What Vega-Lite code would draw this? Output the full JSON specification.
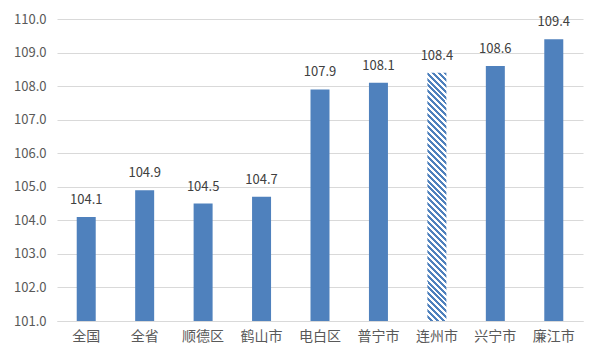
{
  "$schema": "https://vega.github.io/schema/vega-lite/v6.json",
  "width": 526,
  "height": 302,
  "autosize": {"type": "none"},
  "padding": {"left": 57, "top": 19, "right": 19, "bottom": 41},
  "background": "white",
  "config": {
    "view": {"stroke": null},
    "font": "Noto Sans CJK SC"
  },
  "data": {
    "values": [
      {"region": "全国", "value": 104.1},
      {"region": "全省", "value": 104.9},
      {"region": "顺德区", "value": 104.5},
      {"region": "鹤山市", "value": 104.7},
      {"region": "电白区", "value": 107.9},
      {"region": "普宁市", "value": 108.1},
      {"region": "连州市", "value": 108.4},
      {"region": "兴宁市", "value": 108.6},
      {"region": "廉江市", "value": 109.4}
    ]
  },
  "encoding": {
    "x": {
      "field": "region",
      "type": "nominal",
      "sort": ["全国", "全省", "顺德区", "鹤山市", "电白区", "普宁市", "连州市", "兴宁市", "廉江市"],
      "scale": {"paddingInner": 0.675, "paddingOuter": 0.3375},
      "axis": {
        "title": null,
        "labelAngle": 0,
        "ticks": false,
        "domain": true,
        "domainColor": "#d9d9d9",
        "labelFontSize": 14,
        "labelColor": "#595959",
        "labelPadding": 8,
        "grid": false
      }
    },
    "y": {
      "field": "value",
      "type": "quantitative",
      "scale": {"domain": [101, 110], "zero": false, "nice": false},
      "axis": {
        "title": null,
        "values": [101, 102, 103, 104, 105, 106, 107, 108, 109, 110],
        "format": ".1f",
        "grid": true,
        "gridColor": "#d9d9d9",
        "domain": false,
        "ticks": false,
        "labelPadding": 11,
        "labelFontSize": 13,
        "labelColor": "#595959"
      }
    }
  },
  "layer": [
    {
      "transform": [{"filter": "datum.region !== '连州市'"}],
      "mark": {"type": "bar", "color": "#4F81BD"},
      "encoding": {"y2": {"datum": 101}}
    },
    {
      "transform": [{"filter": "datum.region === '连州市'"}],
      "mark": {
        "type": "bar",
        "fill": {
          "gradient": "linear",
          "x1": 1, "y1": 0, "x2": 0.918, "y2": 1.0703,
          "stops": [
            {"offset": 0, "color": "#4F81BD"}, {"offset": 0.0111, "color": "#4F81BD"}, {"offset": 0.0111, "color": "#fff"}, {"offset": 0.0222, "color": "#fff"},
            {"offset": 0.0222, "color": "#4F81BD"}, {"offset": 0.0333, "color": "#4F81BD"}, {"offset": 0.0333, "color": "#fff"}, {"offset": 0.0444, "color": "#fff"},
            {"offset": 0.0444, "color": "#4F81BD"}, {"offset": 0.0556, "color": "#4F81BD"}, {"offset": 0.0556, "color": "#fff"}, {"offset": 0.0667, "color": "#fff"},
            {"offset": 0.0667, "color": "#4F81BD"}, {"offset": 0.0778, "color": "#4F81BD"}, {"offset": 0.0778, "color": "#fff"}, {"offset": 0.0889, "color": "#fff"},
            {"offset": 0.0889, "color": "#4F81BD"}, {"offset": 0.1, "color": "#4F81BD"}, {"offset": 0.1, "color": "#fff"}, {"offset": 0.1111, "color": "#fff"},
            {"offset": 0.1111, "color": "#4F81BD"}, {"offset": 0.1222, "color": "#4F81BD"}, {"offset": 0.1222, "color": "#fff"}, {"offset": 0.1333, "color": "#fff"},
            {"offset": 0.1333, "color": "#4F81BD"}, {"offset": 0.1444, "color": "#4F81BD"}, {"offset": 0.1444, "color": "#fff"}, {"offset": 0.1556, "color": "#fff"},
            {"offset": 0.1556, "color": "#4F81BD"}, {"offset": 0.1667, "color": "#4F81BD"}, {"offset": 0.1667, "color": "#fff"}, {"offset": 0.1778, "color": "#fff"},
            {"offset": 0.1778, "color": "#4F81BD"}, {"offset": 0.1889, "color": "#4F81BD"}, {"offset": 0.1889, "color": "#fff"}, {"offset": 0.2, "color": "#fff"},
            {"offset": 0.2, "color": "#4F81BD"}, {"offset": 0.2111, "color": "#4F81BD"}, {"offset": 0.2111, "color": "#fff"}, {"offset": 0.2222, "color": "#fff"},
            {"offset": 0.2222, "color": "#4F81BD"}, {"offset": 0.2333, "color": "#4F81BD"}, {"offset": 0.2333, "color": "#fff"}, {"offset": 0.2444, "color": "#fff"},
            {"offset": 0.2444, "color": "#4F81BD"}, {"offset": 0.2556, "color": "#4F81BD"}, {"offset": 0.2556, "color": "#fff"}, {"offset": 0.2667, "color": "#fff"},
            {"offset": 0.2667, "color": "#4F81BD"}, {"offset": 0.2778, "color": "#4F81BD"}, {"offset": 0.2778, "color": "#fff"}, {"offset": 0.2889, "color": "#fff"},
            {"offset": 0.2889, "color": "#4F81BD"}, {"offset": 0.3, "color": "#4F81BD"}, {"offset": 0.3, "color": "#fff"}, {"offset": 0.3111, "color": "#fff"},
            {"offset": 0.3111, "color": "#4F81BD"}, {"offset": 0.3222, "color": "#4F81BD"}, {"offset": 0.3222, "color": "#fff"}, {"offset": 0.3333, "color": "#fff"},
            {"offset": 0.3333, "color": "#4F81BD"}, {"offset": 0.3444, "color": "#4F81BD"}, {"offset": 0.3444, "color": "#fff"}, {"offset": 0.3556, "color": "#fff"},
            {"offset": 0.3556, "color": "#4F81BD"}, {"offset": 0.3667, "color": "#4F81BD"}, {"offset": 0.3667, "color": "#fff"}, {"offset": 0.3778, "color": "#fff"},
            {"offset": 0.3778, "color": "#4F81BD"}, {"offset": 0.3889, "color": "#4F81BD"}, {"offset": 0.3889, "color": "#fff"}, {"offset": 0.4, "color": "#fff"},
            {"offset": 0.4, "color": "#4F81BD"}, {"offset": 0.4111, "color": "#4F81BD"}, {"offset": 0.4111, "color": "#fff"}, {"offset": 0.4222, "color": "#fff"},
            {"offset": 0.4222, "color": "#4F81BD"}, {"offset": 0.4333, "color": "#4F81BD"}, {"offset": 0.4333, "color": "#fff"}, {"offset": 0.4444, "color": "#fff"},
            {"offset": 0.4444, "color": "#4F81BD"}, {"offset": 0.4556, "color": "#4F81BD"}, {"offset": 0.4556, "color": "#fff"}, {"offset": 0.4667, "color": "#fff"},
            {"offset": 0.4667, "color": "#4F81BD"}, {"offset": 0.4778, "color": "#4F81BD"}, {"offset": 0.4778, "color": "#fff"}, {"offset": 0.4889, "color": "#fff"},
            {"offset": 0.4889, "color": "#4F81BD"}, {"offset": 0.5, "color": "#4F81BD"}, {"offset": 0.5, "color": "#fff"}, {"offset": 0.5111, "color": "#fff"},
            {"offset": 0.5111, "color": "#4F81BD"}, {"offset": 0.5222, "color": "#4F81BD"}, {"offset": 0.5222, "color": "#fff"}, {"offset": 0.5333, "color": "#fff"},
            {"offset": 0.5333, "color": "#4F81BD"}, {"offset": 0.5444, "color": "#4F81BD"}, {"offset": 0.5444, "color": "#fff"}, {"offset": 0.5556, "color": "#fff"},
            {"offset": 0.5556, "color": "#4F81BD"}, {"offset": 0.5667, "color": "#4F81BD"}, {"offset": 0.5667, "color": "#fff"}, {"offset": 0.5778, "color": "#fff"},
            {"offset": 0.5778, "color": "#4F81BD"}, {"offset": 0.5889, "color": "#4F81BD"}, {"offset": 0.5889, "color": "#fff"}, {"offset": 0.6, "color": "#fff"},
            {"offset": 0.6, "color": "#4F81BD"}, {"offset": 0.6111, "color": "#4F81BD"}, {"offset": 0.6111, "color": "#fff"}, {"offset": 0.6222, "color": "#fff"},
            {"offset": 0.6222, "color": "#4F81BD"}, {"offset": 0.6333, "color": "#4F81BD"}, {"offset": 0.6333, "color": "#fff"}, {"offset": 0.6444, "color": "#fff"},
            {"offset": 0.6444, "color": "#4F81BD"}, {"offset": 0.6556, "color": "#4F81BD"}, {"offset": 0.6556, "color": "#fff"}, {"offset": 0.6667, "color": "#fff"},
            {"offset": 0.6667, "color": "#4F81BD"}, {"offset": 0.6778, "color": "#4F81BD"}, {"offset": 0.6778, "color": "#fff"}, {"offset": 0.6889, "color": "#fff"},
            {"offset": 0.6889, "color": "#4F81BD"}, {"offset": 0.7, "color": "#4F81BD"}, {"offset": 0.7, "color": "#fff"}, {"offset": 0.7111, "color": "#fff"},
            {"offset": 0.7111, "color": "#4F81BD"}, {"offset": 0.7222, "color": "#4F81BD"}, {"offset": 0.7222, "color": "#fff"}, {"offset": 0.7333, "color": "#fff"},
            {"offset": 0.7333, "color": "#4F81BD"}, {"offset": 0.7444, "color": "#4F81BD"}, {"offset": 0.7444, "color": "#fff"}, {"offset": 0.7556, "color": "#fff"},
            {"offset": 0.7556, "color": "#4F81BD"}, {"offset": 0.7667, "color": "#4F81BD"}, {"offset": 0.7667, "color": "#fff"}, {"offset": 0.7778, "color": "#fff"},
            {"offset": 0.7778, "color": "#4F81BD"}, {"offset": 0.7889, "color": "#4F81BD"}, {"offset": 0.7889, "color": "#fff"}, {"offset": 0.8, "color": "#fff"},
            {"offset": 0.8, "color": "#4F81BD"}, {"offset": 0.8111, "color": "#4F81BD"}, {"offset": 0.8111, "color": "#fff"}, {"offset": 0.8222, "color": "#fff"},
            {"offset": 0.8222, "color": "#4F81BD"}, {"offset": 0.8333, "color": "#4F81BD"}, {"offset": 0.8333, "color": "#fff"}, {"offset": 0.8444, "color": "#fff"},
            {"offset": 0.8444, "color": "#4F81BD"}, {"offset": 0.8556, "color": "#4F81BD"}, {"offset": 0.8556, "color": "#fff"}, {"offset": 0.8667, "color": "#fff"},
            {"offset": 0.8667, "color": "#4F81BD"}, {"offset": 0.8778, "color": "#4F81BD"}, {"offset": 0.8778, "color": "#fff"}, {"offset": 0.8889, "color": "#fff"},
            {"offset": 0.8889, "color": "#4F81BD"}, {"offset": 0.9, "color": "#4F81BD"}, {"offset": 0.9, "color": "#fff"}, {"offset": 0.9111, "color": "#fff"},
            {"offset": 0.9111, "color": "#4F81BD"}, {"offset": 0.9222, "color": "#4F81BD"}, {"offset": 0.9222, "color": "#fff"}, {"offset": 0.9333, "color": "#fff"},
            {"offset": 0.9333, "color": "#4F81BD"}, {"offset": 0.9444, "color": "#4F81BD"}, {"offset": 0.9444, "color": "#fff"}, {"offset": 0.9556, "color": "#fff"},
            {"offset": 0.9556, "color": "#4F81BD"}, {"offset": 0.9667, "color": "#4F81BD"}, {"offset": 0.9667, "color": "#fff"}, {"offset": 0.9778, "color": "#fff"},
            {"offset": 0.9778, "color": "#4F81BD"}, {"offset": 0.9889, "color": "#4F81BD"}, {"offset": 0.9889, "color": "#fff"}, {"offset": 1, "color": "#fff"}
          ]
        }
      },
      "encoding": {"y2": {"datum": 101}}
    },
    {
      "mark": {"type": "text", "dy": -13, "baseline": "alphabetic", "fontSize": 13, "color": "#404040"},
      "encoding": {"text": {"field": "value", "type": "quantitative", "format": ".1f"}}
    }
  ]
}
